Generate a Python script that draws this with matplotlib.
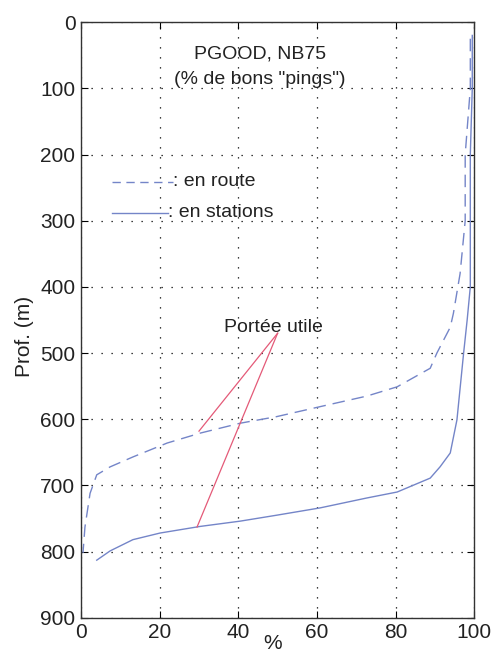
import matplotlib
matplotlib.use("Agg")
import matplotlib.pyplot as plt

plt.rcParams['font.family'] = ['Liberation Sans', 'DejaVu Sans']

# en route (dashed)
route_pct = [99.0, 99.0, 97.7, 97.7, 96.4, 94.7, 93.9, 90.5, 88.8, 80.4, 72.7, 60.8, 49.8, 40.5, 30.3, 21.9, 13.2, 7.4, 4.0, 2.3, 1.0, 0.5]
route_depth = [25, 100, 200, 300, 380, 440, 461, 500, 523, 551, 565, 581, 596, 606, 621, 636, 657, 672, 684, 712, 763, 802]

# en stations (solid)
stat_pct = [99.5, 99.5, 99.0, 99.0, 98.2, 97.3, 95.6, 93.9, 91.3, 88.8, 80.4, 72.7, 60.8, 49.8, 40.5, 30.3, 20.1, 13.2, 7.4, 4.0]
stat_depth = [20, 100, 200, 400, 450, 500, 601, 651, 672, 689, 710, 719, 734, 745, 754, 762, 772, 782, 799, 813]

# Portée utile pointers
arrow_start = (50, 470)
arrow_ends = [(30, 618), (29.5, 763)]

xticks = [0, 20, 40, 60, 80, 100]
yticks = [0, 100, 200, 300, 400, 500, 600, 700, 800, 900]

blue = '#7485c8'
red = '#e45a78'
txt = '#222222'

fig = plt.figure(figsize=(4.94, 6.53), dpi=100)
ax = fig.add_axes([0.164, 0.054, 0.796, 0.912])

ax.plot(route_pct, route_depth, color=blue, lw=1.0, dashes=(9, 5))
ax.plot(stat_pct, stat_depth, color=blue, lw=1.0)

for ex, ey in arrow_ends:
    ax.plot([arrow_start[0], ex], [arrow_start[1], ey], color=red, lw=0.9)

ax.set_xlim(0, 100)
ax.set_ylim(900, 0)
ax.set_xticks(xticks)
ax.set_yticks(yticks)
ax.tick_params(direction='in', top=True, right=True, labelsize=15, length=5, pad=4,
               labelcolor=txt)
ax.grid(True, color='black', linestyle=(0, (1, 7)), lw=0.9)
for s in ax.spines.values():
    s.set_color('#333333')
    s.set_linewidth(1.0)

ax.text(45.5, 48, 'PGOOD, NB75', ha='center', va='center', fontsize=14, color=txt)
ax.text(45.5, 86, '(% de bons "pings")', ha='center', va='center', fontsize=14, color=txt)

# legend drawn manually
ax.plot([8, 23.5], [242, 242], color=blue, lw=1.0, dashes=(6, 4))
ax.text(23.5, 241, ': en route', ha='left', va='center', fontsize=14, color=txt)
ax.plot([8, 22], [288, 288], color=blue, lw=1.0)
ax.text(22, 287, ': en stations', ha='left', va='center', fontsize=14, color=txt)

ax.text(49, 462, 'Portée utile', ha='center', va='center', fontsize=14, color=txt)

fig.text(0.05, 1 - 336 / 653, 'Prof. (m)', rotation=90, ha='center', va='center',
         fontsize=15, color=txt)
fig.text(0.552, 0.0, '%', ha='center', va='bottom', fontsize=15, color=txt)

fig.savefig('out.png', dpi=100)
